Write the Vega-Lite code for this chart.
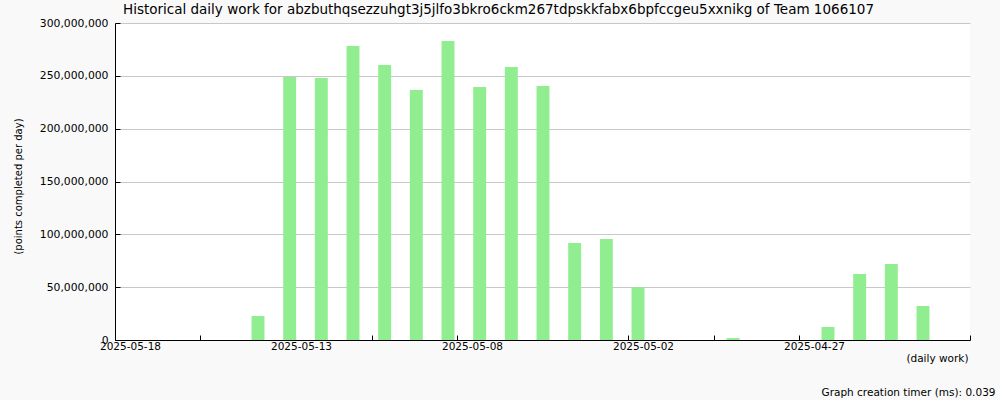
{
  "$schema": "https://vega.github.io/schema/vega-lite/v6.json",
  "autosize": "none",
  "width": 855,
  "height": 317,
  "padding": {"left": 115, "top": 23, "right": 30, "bottom": 60},
  "background": "#f9f9f9",
  "title": {
    "text": "Historical daily work for abzbuthqsezzuhgt3j5jlfo3bkro6ckm267tdpskkfabx6bpfccgeu5xxnikg of Team 1066107",
    "anchor": "start",
    "frame": "group",
    "dx": 8,
    "offset": 1,
    "font": "DejaVu Sans",
    "fontSize": 13.5,
    "fontWeight": "normal",
    "color": "#000000"
  },
  "data": {
    "values": [
      {"date": "2025-05-13", "points": 22700000},
      {"date": "2025-05-12", "points": 249000000},
      {"date": "2025-05-11", "points": 248000000},
      {"date": "2025-05-10", "points": 278200000},
      {"date": "2025-05-09", "points": 260200000},
      {"date": "2025-05-08", "points": 236600000},
      {"date": "2025-05-07", "points": 283000000},
      {"date": "2025-05-06", "points": 239400000},
      {"date": "2025-05-05", "points": 258400000},
      {"date": "2025-05-04", "points": 240400000},
      {"date": "2025-05-03", "points": 91800000},
      {"date": "2025-05-02", "points": 95600000},
      {"date": "2025-05-01", "points": 49800000},
      {"date": "2025-04-28", "points": 1800000},
      {"date": "2025-04-25", "points": 12300000},
      {"date": "2025-04-24", "points": 62500000},
      {"date": "2025-04-23", "points": 71900000},
      {"date": "2025-04-22", "points": 32200000}
    ]
  },
  "layer": [
    {
      "mark": {"type": "bar", "color": "#90ee90", "width": {"band": 0.44}},
      "encoding": {
        "x": {
          "field": "date",
          "type": "temporal",
          "timeUnit": "utcyearmonthdate",
          "scale": {
            "domain": [
              {"year": 2025, "month": 4, "date": 21, "utc": true},
              {"year": 2025, "month": 5, "date": 18, "utc": true}
            ],
            "reverse": true,
            "nice": false
          },
          "axis": {
            "values": [
              {"year": 2025, "month": 5, "date": 18, "hours": 0, "minutes": 0, "utc": true},
              {"year": 2025, "month": 5, "date": 15, "hours": 7, "minutes": 12, "utc": true},
              {"year": 2025, "month": 5, "date": 12, "hours": 14, "minutes": 24, "utc": true},
              {"year": 2025, "month": 5, "date": 9, "hours": 21, "minutes": 36, "utc": true},
              {"year": 2025, "month": 5, "date": 7, "hours": 4, "minutes": 48, "utc": true},
              {"year": 2025, "month": 5, "date": 4, "hours": 12, "minutes": 0, "utc": true},
              {"year": 2025, "month": 5, "date": 1, "hours": 19, "minutes": 12, "utc": true},
              {"year": 2025, "month": 4, "date": 29, "hours": 2, "minutes": 24, "utc": true},
              {"year": 2025, "month": 4, "date": 26, "hours": 9, "minutes": 36, "utc": true},
              {"year": 2025, "month": 4, "date": 23, "hours": 16, "minutes": 48, "utc": true},
              {"year": 2025, "month": 4, "date": 21, "hours": 0, "minutes": 0, "utc": true}
            ],
            "labelExpr": "(round((utc(2025,4,18) - datum.value) / 233280000) % 2 == 0 && round((utc(2025,4,18) - datum.value) / 233280000) < 10) ? utcFormat(datum.value + 86000000, '%Y-%m-%d') : ''",
            "grid": false,
            "domainColor": "#000000",
            "tickColor": "#000000",
            "tickSize": -5,
            "labelPadding": 6,
            "labelFlush": false,
            "labelOverlap": false,
            "labelAlign": "center",
            "labelOffset": 15,
            "labelFontSize": 10.5,
            "labelFont": "DejaVu Sans",
            "labelColor": "#000000",
            "title": "(daily work)",
            "titleFont": "DejaVu Sans",
            "titleFontSize": 10.5,
            "titleFontWeight": "normal",
            "titleColor": "#000000",
            "titleAnchor": "end",
            "titleAlign": "right",
            "titleBaseline": "alphabetic",
            "titleX": 853,
            "titleY": 21
          }
        },
        "y": {
          "field": "points",
          "type": "quantitative",
          "scale": {"domain": [0, 300000000], "nice": false},
          "axis": {
            "values": [0, 50000000, 100000000, 150000000, 200000000, 250000000, 300000000],
            "format": ",d",
            "grid": true,
            "gridColor": "#c8c8c8",
            "gridOpacity": 1,
            "domainColor": "#000000",
            "tickColor": "#000000",
            "tickSize": -5,
            "labelPadding": 12,
            "labelFontSize": 10.8,
            "labelFont": "DejaVu Sans",
            "labelColor": "#000000",
            "title": "(points completed per day)",
            "titleFont": "DejaVu Sans",
            "titleFontSize": 10,
            "titleFontWeight": "normal",
            "titleColor": "#000000",
            "titleAngle": -90,
            "titleBaseline": "middle",
            "titleAlign": "center",
            "titleX": -97,
            "titleY": 163
          }
        }
      }
    },
    {
      "mark": {"type": "rule", "opacity": 0},
      "encoding": {
        "x": {
          "field": "date",
          "type": "temporal",
          "timeUnit": "utcyearmonthdate",
          "axis": {
            "orient": "bottom",
            "domain": false,
            "ticks": false,
            "labels": false,
            "grid": false,
            "title": "Graph creation timer (ms): 0.039",
            "titleFont": "DejaVu Sans",
            "titleFontSize": 10.5,
            "titleFontWeight": "normal",
            "titleColor": "#000000",
            "titleAnchor": "end",
            "titleAlign": "right",
            "titleBaseline": "alphabetic",
            "titleX": 880,
            "titleY": 55
          }
        }
      }
    }
  ],
  "resolve": {"axis": {"x": "independent"}},
  "config": {
    "view": {"fill": "#ffffff", "stroke": null},
    "axis": {"labelFont": "DejaVu Sans", "titleFont": "DejaVu Sans"}
  }
}
